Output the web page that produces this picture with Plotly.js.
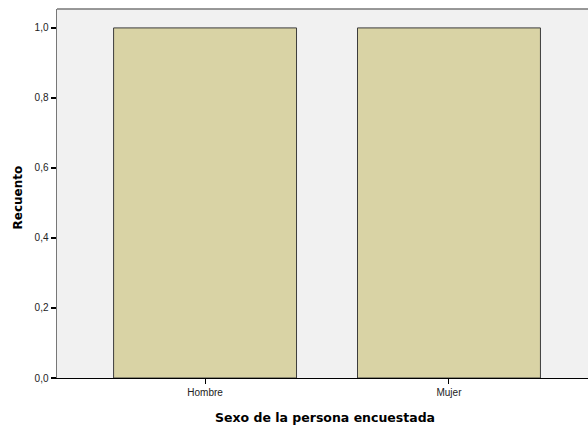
<!DOCTYPE html>
<html>
<head>
<meta charset="utf-8">
<script src="https://cdn.plot.ly/plotly-3.0.1.min.js"></script>
<style>html,body{margin:0;padding:0;overflow:hidden;background:#fff;}</style>
</head>
<body>
<div id="chart" style="width:588px;height:430px;"></div>
<script>
const categories = ["Hombre", "Mujer"];
const counts = [1.0, 1.0];
const yTickVals = [0, 0.2, 0.4, 0.6, 0.8, 1.0];
const xTitle = "Sexo de la persona encuestada";
const yTitle = "Recuento";

const trace = {
  type: "bar",
  x: categories,
  y: counts,
  width: 0.75,
  marker: {color: "#d9d3a5", line: {color: "#3c3c3c", width: 1}},
  hoverinfo: "none"
};

const layout = {
  width: 588, height: 430,
  margin: {l: 57, r: 0, t: 9, b: 52},
  paper_bgcolor: "#ffffff",
  plot_bgcolor: "#f1f1f1",
  separators: ",.",
  showlegend: false,
  font: {family: "Liberation Sans, Arial, sans-serif", size: 10, color: "#222"},
  xaxis: {
    type: "category",
    range: [-0.607, 1.57],
    showgrid: false, zeroline: false,
    showline: true, linecolor: "#000", linewidth: 1,
    ticks: "outside", ticklen: 5, tickcolor: "#000", tickwidth: 1,
    tickfont: {size: 10, color: "#222"}
  },
  yaxis: {
    range: [0, 1.054],
    tickvals: yTickVals,
    tickformat: ".1f",
    showgrid: false, zeroline: false,
    showline: true, linecolor: "#777", linewidth: 1.5,
    ticks: "outside", ticklen: 5, tickcolor: "#000", tickwidth: 1.5,
    tickfont: {size: 10, color: "#222"}
  },
  shapes: [
    {type: "line", xref: "paper", yref: "paper", x0: 0, x1: 1, y0: 1, y1: 1,
     line: {color: "#777", width: 1.5}}
  ],
  annotations: [
    {text: "<b>" + xTitle + "</b>", xref: "paper", yref: "paper", x: 0.505, y: -0.108,
     xanchor: "center", yanchor: "middle", showarrow: false,
     font: {size: 12.5, color: "#000", family: "DejaVu Sans, Verdana, sans-serif"}},
    {text: "<b>" + yTitle + "</b>", xref: "paper", yref: "paper", x: -0.073, y: 0.49,
     xanchor: "center", yanchor: "middle", showarrow: false, textangle: -90,
     font: {size: 12, color: "#000", family: "DejaVu Sans, Verdana, sans-serif"}}
  ]
};

Plotly.newPlot("chart", [trace], layout, {staticPlot: true, displayModeBar: false});
</script>
</body>
</html>
